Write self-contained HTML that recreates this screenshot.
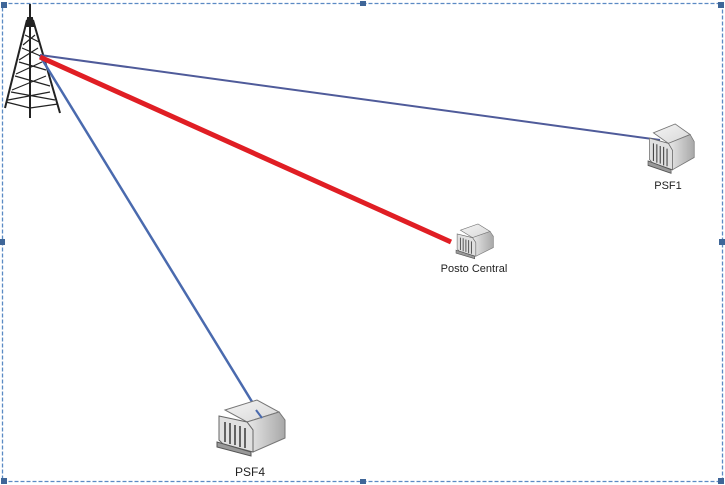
<!DOCTYPE html>
<html><head><style>
html,body{margin:0;padding:0;background:#fff;width:725px;height:485px;overflow:hidden}
svg{display:block}
text{font-family:"Liberation Sans",Arial,sans-serif;fill:#222}
</style></head><body>
<svg width="725" height="485" viewBox="0 0 725 485" xmlns="http://www.w3.org/2000/svg">
<defs>
<linearGradient id="top" x1="0" y1="0" x2="1" y2="1"><stop offset="0" stop-color="#f4f4f4"/><stop offset="1" stop-color="#d8d8d8"/></linearGradient>
<linearGradient id="side" x1="0" y1="0" x2="1" y2="0"><stop offset="0" stop-color="#e8e8e8"/><stop offset="1" stop-color="#a8a8a8"/></linearGradient>
<g id="bld">
<polygon points="8,10 40,0 62,12 30,22" fill="url(#top)" stroke="#777" stroke-width="1"/>
<polygon points="30,22 62,12 68,20 68,38 36,52 36,30" fill="url(#side)" stroke="#777" stroke-width="1"/>
<polygon points="2,16 30,22 36,30 36,52 6,44 2,40" fill="#e0e0e0" stroke="#666" stroke-width="1"/>
<g stroke="#444" stroke-width="1.6">
<line x1="8" y1="22" x2="8" y2="42"/><line x1="13" y1="23" x2="13" y2="44"/><line x1="18" y1="25" x2="18" y2="45"/><line x1="23" y1="26" x2="23" y2="47"/><line x1="28" y1="28" x2="28" y2="48"/>
</g>
<polygon points="0,42 34,52 34,56 0,47" fill="#999" stroke="#555" stroke-width="1"/>
</g>
</defs>
<rect x="2.5" y="3.5" width="720" height="478" fill="none" stroke="#5b8ac4" stroke-width="1.3" stroke-dasharray="4,2"/>
<g fill="#3f6698">
<rect x="1" y="2" width="6" height="6"/><rect x="360" y="1" width="6" height="5"/><rect x="718" y="2" width="6" height="6"/>
<rect x="0" y="239" width="5" height="6"/><rect x="719" y="239" width="6" height="6"/>
<rect x="1" y="478" width="6" height="6"/><rect x="360" y="479" width="6" height="5"/><rect x="718" y="478" width="6" height="6"/>
</g>
<g stroke="#222" stroke-width="2" fill="none">
<line x1="30" y1="4" x2="30" y2="20"/>
<polygon points="28,18 32,18 33,26 27,26" fill="#222"/>
<polyline points="27,20 5,108"/><polyline points="33,20 60,113"/>
<line x1="30" y1="20" x2="30" y2="118"/>
<g stroke-width="1.2">
<line x1="25" y1="35" x2="39" y2="42"/><line x1="35" y1="35" x2="23" y2="45"/>
<line x1="22" y1="48" x2="43" y2="57"/><line x1="38" y1="48" x2="19" y2="60"/>
<line x1="19" y1="62" x2="46" y2="70"/><line x1="42" y1="62" x2="16" y2="74"/>
<line x1="15" y1="76" x2="50" y2="86"/><line x1="46" y1="76" x2="12" y2="90"/>
<line x1="11" y1="92" x2="55" y2="100"/><line x1="50" y1="92" x2="8" y2="100"/>
<line x1="6" y1="102" x2="30" y2="108"/><line x1="58" y1="104" x2="30" y2="108"/>
</g>
</g>
<line x1="40" y1="55" x2="660" y2="140" stroke="#4f5b9a" stroke-width="2"/>
<line x1="40" y1="56" x2="262" y2="418" stroke="#4a6aae" stroke-width="2.5"/>
<line x1="40" y1="57" x2="451" y2="242" stroke="#e01e24" stroke-width="5"/>
<use href="#bld" transform="translate(648,124) scale(0.68,0.88)"/>
<use href="#bld" transform="translate(456,224) scale(0.55,0.62)"/>
<use href="#bld" transform="translate(217,400) scale(1,1)"/>
<polyline points="262,418 256,410 M262,418 264,408" stroke="#4a6aae" stroke-width="2" fill="none"/>
<text x="668" y="189" font-size="11" text-anchor="middle">PSF1</text>
<text x="474" y="272" font-size="11" text-anchor="middle">Posto Central</text>
<text x="250" y="476" font-size="12" text-anchor="middle">PSF4</text>
</svg>
</body></html>
